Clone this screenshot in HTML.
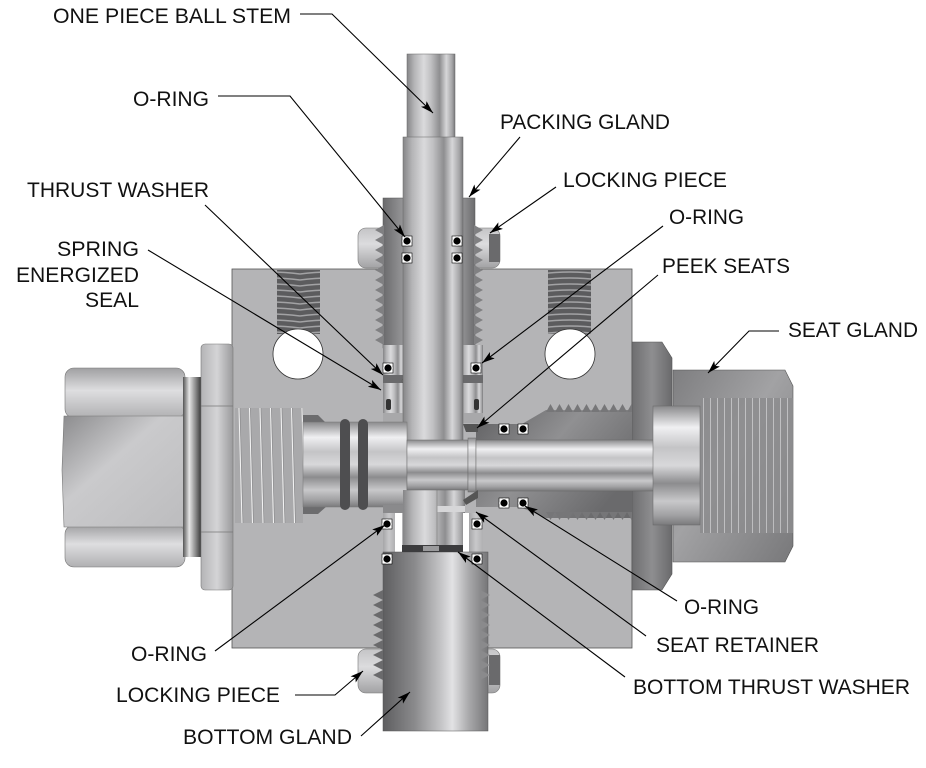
<!DOCTYPE html>
<html><head><meta charset="utf-8"><style>
html,body{margin:0;padding:0;background:#fff;}
svg{display:block;}
text{font-family:"Liberation Sans",Arial,sans-serif;font-size:21px;fill:#111;}
</style></head><body>
<svg width="926" height="768" viewBox="0 0 926 768" xmlns="http://www.w3.org/2000/svg">
<defs>
 <linearGradient id="vc" x1="0" y1="0" x2="1" y2="0">
  <stop offset="0" stop-color="#858587"/><stop offset=".15" stop-color="#b4b4b6"/><stop offset=".35" stop-color="#dadadc"/><stop offset=".5" stop-color="#c0c0c2"/><stop offset=".68" stop-color="#8e8e90"/><stop offset=".82" stop-color="#d6d6d8"/><stop offset=".94" stop-color="#a4a4a6"/><stop offset="1" stop-color="#78787a"/>
 </linearGradient>
 <linearGradient id="hc" x1="0" y1="0" x2="0" y2="1">
  <stop offset="0" stop-color="#8a8a8c"/><stop offset=".18" stop-color="#f0f0f2"/><stop offset=".35" stop-color="#c4c4c6"/><stop offset=".5" stop-color="#d8d8da"/><stop offset=".65" stop-color="#8c8c8e"/><stop offset=".8" stop-color="#c8c8ca"/><stop offset=".92" stop-color="#a0a0a2"/><stop offset="1" stop-color="#7a7a7c"/>
 </linearGradient>
 <linearGradient id="gl" x1="0" y1="0" x2="1" y2="0">
  <stop offset="0" stop-color="#6a6a6c"/><stop offset=".25" stop-color="#9c9c9e"/><stop offset=".5" stop-color="#8a8a8c"/><stop offset=".8" stop-color="#a4a4a6"/><stop offset="1" stop-color="#6c6c6e"/>
 </linearGradient>
 <linearGradient id="wl" x1="0" y1="0" x2="1" y2="0">
  <stop offset="0" stop-color="#a6a6a8"/><stop offset=".5" stop-color="#c8c8ca"/><stop offset="1" stop-color="#b0b0b2"/>
 </linearGradient>
 <linearGradient id="bg" x1="0" y1="0" x2="1" y2="0">
  <stop offset="0" stop-color="#5e5e60"/><stop offset=".3" stop-color="#8a8a8c"/><stop offset=".55" stop-color="#c4c4c6"/><stop offset=".66" stop-color="#e2e2e4"/><stop offset=".82" stop-color="#a8a8aa"/><stop offset="1" stop-color="#767678"/>
 </linearGradient>
 <linearGradient id="lk" x1="0" y1="0" x2="0" y2="1">
  <stop offset="0" stop-color="#c4c4c6"/><stop offset=".4" stop-color="#dcdcde"/><stop offset="1" stop-color="#a2a2a4"/>
 </linearGradient>
 <linearGradient id="hx" x1="0" y1="0" x2="0" y2="1">
  <stop offset="0" stop-color="#a0a0a2"/><stop offset=".45" stop-color="#dedee0"/><stop offset="1" stop-color="#b0b0b2"/>
 </linearGradient>
 <linearGradient id="hxm" x1="0" y1="0" x2="1" y2="1">
  <stop offset="0" stop-color="#8c8c8e"/><stop offset=".4" stop-color="#cacacc"/><stop offset="1" stop-color="#bcbcbe"/>
 </linearGradient>
 <linearGradient id="ring" x1="0" y1="0" x2="1" y2="0">
  <stop offset="0" stop-color="#555"/><stop offset=".35" stop-color="#e6e6e6"/><stop offset=".7" stop-color="#8a8a8a"/><stop offset="1" stop-color="#3a3a3a"/>
 </linearGradient>
 <linearGradient id="bh" x1="0" y1="0" x2="1" y2="0">
  <stop offset="0" stop-color="#b4b4b6"/><stop offset=".5" stop-color="#d4d4d6"/><stop offset="1" stop-color="#9a9a9c"/>
 </linearGradient>
 <linearGradient id="sg" x1="0" y1="0" x2="1" y2="1">
  <stop offset="0" stop-color="#7e7e80"/><stop offset=".45" stop-color="#a2a2a4"/><stop offset="1" stop-color="#78787a"/>
 </linearGradient>
 <linearGradient id="sn" x1="0" y1="0" x2="1" y2="0">
  <stop offset="0" stop-color="#6e6e70"/><stop offset=".5" stop-color="#8e8e90"/><stop offset="1" stop-color="#6a6a6c"/>
 </linearGradient>
 <linearGradient id="si" x1="0" y1="0" x2="1" y2="0.6">
  <stop offset="0" stop-color="#606062"/><stop offset=".5" stop-color="#909092"/><stop offset="1" stop-color="#6a6a6c"/>
 </linearGradient>
 <pattern id="hth" patternUnits="userSpaceOnUse" x="0" y="270" width="60" height="6">
  <rect width="60" height="6" fill="#5c5c5e"/><path d="M0,4 Q30,0 60,4" stroke="#a2a2a4" stroke-width="1.4" fill="none"/>
 </pattern>
 <pattern id="tL" patternUnits="userSpaceOnUse" x="375" y="225" width="9" height="10">
  <polygon points="9,0 0,5 9,10" fill="#808082"/>
 </pattern>
 <pattern id="tR" patternUnits="userSpaceOnUse" x="474" y="225" width="9" height="10">
  <polygon points="0,0 9,5 0,10" fill="#808082"/>
 </pattern>
 <pattern id="tBL" patternUnits="userSpaceOnUse" x="373" y="590" width="10" height="10">
  <polygon points="10,0 0,5 10,10" fill="#6a6a6c"/>
 </pattern>
 <pattern id="tBR" patternUnits="userSpaceOnUse" x="480" y="590" width="10" height="10">
  <polygon points="0,0 10,5 0,10" fill="#8a8a8c"/>
 </pattern>
 <pattern id="tU" patternUnits="userSpaceOnUse" x="546" y="404" width="9" height="8">
  <polygon points="0,8 4.5,0 9,8" fill="#767678"/>
 </pattern>
 <pattern id="tD" patternUnits="userSpaceOnUse" x="546" y="512" width="9" height="8">
  <polygon points="0,0 4.5,8 9,0" fill="#767678"/>
 </pattern>
 <pattern id="vth" patternUnits="userSpaceOnUse" x="700" y="0" width="7" height="10">
  <rect width="7" height="10" fill="#8c8c8e"/><rect x="3" width="1" height="10" fill="#c6c6c8"/>
 </pattern>
 <pattern id="lth" patternUnits="userSpaceOnUse" x="236" y="408" width="10.5" height="115">
  <rect width="10.5" height="115" fill="#a9a9ab"/><line x1="3" y1="0" x2="6" y2="115" stroke="#f4f4f4" stroke-width="1"/><line x1="4" y1="0" x2="7" y2="115" stroke="#8a8a8c" stroke-width=".6"/>
 </pattern>
 <marker id="ar" markerWidth="14" markerHeight="8" refX="13" refY="4" orient="auto" markerUnits="userSpaceOnUse">
  <path d="M0,0 L13,4 L0,8 L3,4 z" fill="#000"/>
 </marker>
 <g id="dot"><rect x="-5" y="-5" width="10" height="10" fill="#fff" stroke="#000" stroke-width=".6"/><circle r="4.8" fill="#fff"/><circle r="3.6" fill="#000"/></g>
</defs>

<!-- locking pieces -->
<rect x="358" y="228" width="142" height="40" rx="8" fill="url(#lk)" stroke="#777" stroke-width=".6"/>
<rect x="489" y="234" width="11" height="28" fill="#6a6a6c"/>
<rect x="358" y="649" width="142" height="44" rx="8" fill="url(#lk)" stroke="#777" stroke-width=".6"/>
<rect x="489" y="655" width="11" height="30" fill="#6a6a6c"/>

<!-- body -->
<rect x="232" y="269" width="400" height="379" fill="#b4b4b6" stroke="#555" stroke-width=".8"/>

<!-- threaded holes -->
<rect x="277" y="270" width="43" height="64" fill="url(#hth)"/>
<rect x="548" y="270" width="43" height="64" fill="url(#hth)"/>
<circle cx="298" cy="354" r="25" fill="#fff" stroke="#333" stroke-width=".8"/>
<circle cx="570" cy="354" r="25" fill="#fff" stroke="#333" stroke-width=".8"/>

<!-- left fitting -->
<rect x="65" y="368" width="120" height="50" rx="9" fill="url(#hx)" stroke="#777" stroke-width=".6"/>
<rect x="65" y="525" width="120" height="42" rx="9" fill="url(#hx)" stroke="#777" stroke-width=".6"/>
<path d="M64,416 L185,416 L188,470 L185,527 L64,527 L62,470 Z" fill="url(#hxm)" stroke="#777" stroke-width=".6"/>
<rect x="183" y="377" width="18" height="180" fill="url(#ring)"/>
<rect x="201" y="344" width="32" height="246" rx="4" fill="url(#bh)" stroke="#777" stroke-width=".6"/>
<line x1="201" y1="406" x2="233" y2="406" stroke="#777" stroke-width=".8"/>
<line x1="201" y1="532" x2="233" y2="532" stroke="#777" stroke-width=".8"/>
<rect x="235" y="408" width="68" height="115" fill="url(#lth)"/>
<polygon points="303,415 318,415 327,424 327,506 318,514 303,514" fill="#6c6c6e"/>

<!-- seat gland outer -->
<polygon points="632,342 662,342 672,358 672,574 662,590 632,590" fill="url(#sn)" stroke="#555" stroke-width=".6"/>
<polygon points="673,370 785,370 793,386 793,546 785,562 673,562" fill="url(#sg)" stroke="#555" stroke-width=".6"/>
<rect x="700" y="398" width="93" height="135" fill="url(#vth)" opacity=".85"/>

<!-- seat gland inside body -->
<polygon points="476,424 522,424 546,410 632,410 632,518 546,518 520,507 476,507" fill="url(#si)"/>
<rect x="546" y="404" width="86" height="8" fill="url(#tU)"/>
<rect x="546" y="512" width="86" height="8" fill="url(#tD)"/>

<!-- packing gland -->
<rect x="383" y="198" width="92" height="150" fill="url(#gl)" stroke="#555" stroke-width=".5"/>
<rect x="375" y="225" width="9" height="120" fill="url(#tL)"/>
<rect x="474" y="225" width="9" height="120" fill="url(#tR)"/>
<rect x="383" y="345" width="22" height="68" fill="url(#vc)"/>
<rect x="461" y="345" width="22" height="68" fill="url(#vc)"/>
<rect x="383" y="375" width="22" height="8" fill="#6a6a6c"/>
<rect x="461" y="375" width="22" height="8" fill="#6a6a6c"/>
<circle cx="404" cy="381" r="2" fill="#999" stroke="#444" stroke-width=".5"/>
<circle cx="461" cy="381" r="2" fill="#999" stroke="#444" stroke-width=".5"/>
<rect x="386" y="399" width="5" height="11" rx="2" fill="#333"/>
<rect x="474" y="399" width="5" height="11" rx="2" fill="#333"/>
<rect x="383" y="413" width="24" height="10" fill="#a8a8aa"/>
<rect x="459" y="413" width="24" height="10" fill="#a8a8aa"/>

<!-- stem -->
<rect x="407" y="54" width="48" height="84" fill="url(#vc)" stroke="#666" stroke-width=".5"/>
<rect x="403" y="137" width="60" height="305" fill="url(#vc)" stroke="#666" stroke-width=".5"/>

<!-- left cylinder -->
<rect x="303" y="422" width="104" height="85" fill="url(#hc)" stroke="#777" stroke-width=".5"/>
<rect x="340" y="419" width="10" height="91" rx="5" fill="#4e4e50"/>
<rect x="358" y="419" width="10" height="91" rx="5" fill="#4e4e50"/>

<!-- lower stem region -->
<rect x="383" y="505" width="22" height="8" fill="#8a8a8c"/>
<rect x="383" y="513" width="12" height="39" fill="url(#wl)"/>
<rect x="469" y="513" width="14" height="39" fill="url(#wl)"/>
<rect x="403" y="490" width="62" height="58" fill="url(#vc)"/>
<rect x="437" y="506" width="28" height="6" fill="#d6d6d8"/>
<line x1="437" y1="490" x2="437" y2="545" stroke="#888" stroke-width=".8"/>
<rect x="395" y="513" width="7" height="39" fill="#fff"/>
<rect x="463" y="513" width="6" height="39" fill="#fff"/>

<!-- ball / horizontal -->
<rect x="407" y="440" width="61" height="50" fill="url(#hc)" stroke="#666" stroke-width=".5"/>
<rect x="468" y="438" width="8" height="54" fill="url(#hc)" stroke="#666" stroke-width=".5"/>
<rect x="476" y="440" width="178" height="51" fill="url(#hc)" stroke="#666" stroke-width=".5"/>
<polygon points="463,424 478,424 478,432 466,432" fill="#555"/>
<polygon points="463,500 478,490 478,498 466,505" fill="#555"/>
<rect x="653" y="406" width="47" height="119" fill="url(#hc)" stroke="#666" stroke-width=".5"/>

<!-- bottom gland -->
<rect x="383" y="552" width="105" height="179" fill="url(#bg)" stroke="#555" stroke-width=".5"/>
<rect x="373" y="590" width="10" height="90" fill="url(#tBL)"/>
<rect x="480" y="590" width="10" height="90" fill="url(#tBR)"/>
<rect x="402" y="545" width="61" height="7" fill="#3c3c3e"/>
<rect x="423" y="546" width="16" height="5" fill="#9a9a9c"/>

<!-- o-rings -->
<use href="#dot" x="407" y="241"/><use href="#dot" x="407" y="258"/>
<use href="#dot" x="457" y="241"/><use href="#dot" x="457" y="258"/>
<use href="#dot" x="388" y="368"/><use href="#dot" x="476" y="368"/>
<use href="#dot" x="504" y="429"/><use href="#dot" x="523" y="429"/>
<use href="#dot" x="504" y="503"/><use href="#dot" x="523" y="503"/>
<use href="#dot" x="387" y="524"/><use href="#dot" x="477" y="524"/>
<use href="#dot" x="387" y="559"/><use href="#dot" x="477" y="559"/>

<!-- leaders -->
<g fill="none" stroke="#000" stroke-width="1.1" marker-end="url(#ar)">
 <path d="M300,14 L332,14 L433,113"/>
 <path d="M218,96 L290,96 L405,237"/>
 <path d="M205,205 L383,375"/>
 <path d="M148,250 L381,390"/>
 <path d="M520,137 L469,197"/>
 <path d="M556,187 L490,233"/>
 <path d="M663,226 L482,363"/>
 <path d="M658,275 L477,428"/>
 <path d="M779,331 L749,331 L708,373"/>
 <path d="M215,651 L385,525"/>
 <path d="M295,695 L335,695 L363,671"/>
 <path d="M361,736 L410,692"/>
 <path d="M677,601 L525,506"/>
 <path d="M646,636 L476,512"/>
 <path d="M625,677 L458,552"/>
</g>

<!-- labels -->
<text x="53" y="23" textLength="238" lengthAdjust="spacingAndGlyphs">ONE PIECE BALL STEM</text>
<text x="133" y="106" textLength="76" lengthAdjust="spacingAndGlyphs">O-RING</text>
<text x="27" y="197" textLength="182" lengthAdjust="spacingAndGlyphs">THRUST WASHER</text>
<text x="57" y="256" textLength="82" lengthAdjust="spacingAndGlyphs">SPRING</text>
<text x="16" y="282" textLength="123" lengthAdjust="spacingAndGlyphs">ENERGIZED</text>
<text x="85" y="307" textLength="54" lengthAdjust="spacingAndGlyphs">SEAL</text>
<text x="500" y="129" textLength="170" lengthAdjust="spacingAndGlyphs">PACKING GLAND</text>
<text x="563" y="187" textLength="164" lengthAdjust="spacingAndGlyphs">LOCKING PIECE</text>
<text x="669" y="224" textLength="75" lengthAdjust="spacingAndGlyphs">O-RING</text>
<text x="662" y="273" textLength="128" lengthAdjust="spacingAndGlyphs">PEEK SEATS</text>
<text x="788" y="337" textLength="130" lengthAdjust="spacingAndGlyphs">SEAT GLAND</text>
<text x="131" y="661" textLength="76" lengthAdjust="spacingAndGlyphs">O-RING</text>
<text x="116" y="702" textLength="164" lengthAdjust="spacingAndGlyphs">LOCKING PIECE</text>
<text x="183" y="744" textLength="169" lengthAdjust="spacingAndGlyphs">BOTTOM GLAND</text>
<text x="684" y="614" textLength="75" lengthAdjust="spacingAndGlyphs">O-RING</text>
<text x="656" y="652" textLength="163" lengthAdjust="spacingAndGlyphs">SEAT RETAINER</text>
<text x="633" y="694" textLength="277" lengthAdjust="spacingAndGlyphs">BOTTOM THRUST WASHER</text>
</svg>
</body></html>
